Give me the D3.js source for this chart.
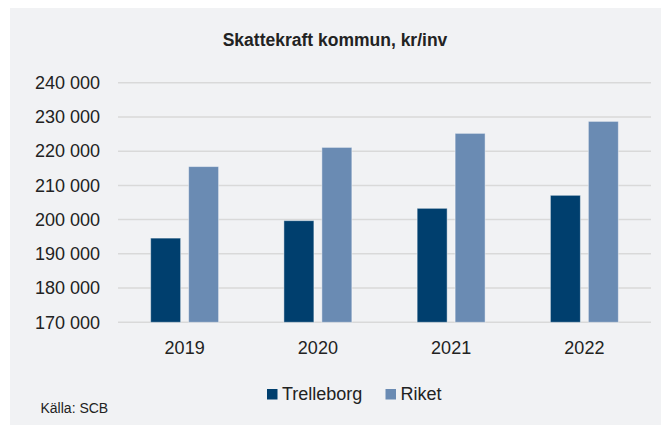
<!DOCTYPE html>
<html>
<head>
<meta charset="utf-8">
<script src="https://cdn.jsdelivr.net/npm/d3@7"></script>
<style>
  body { margin: 0; background: #fff; }
  svg { display: block; font-family: "Liberation Sans", Arial, sans-serif; }
</style>
</head>
<body>
<script>
const years = ["2019", "2020", "2021", "2022"];
const seriesNames = ["Trelleborg", "Riket"];
const trelleborg = [194600, 199700, 203300, 207100];
const riket = [215500, 221100, 225200, 228700];
const yTicks = [170000, 180000, 190000, 200000, 210000, 220000, 230000, 240000];

const w = 662;
const h = 425;
const colors = ["#003f6e", "#6a8bb3"];

const svg = d3.select("body")
  .append("svg")
  .attr("width", w)
  .attr("height", h);

// background panel
svg.append("rect")
  .attr("x", 10)
  .attr("y", 8)
  .attr("width", w - 11)
  .attr("height", h - 8)
  .attr("fill", "#f1f2f4");

svg.append("text")
  .attr("x", 335)
  .attr("y", 46)
  .attr("text-anchor", "middle")
  .attr("font-size", 17.5)
  .attr("font-weight", "bold")
  .attr("fill", "#222")
  .text("Skattekraft kommun, kr/inv");

const x0 = d3.scaleBand()
  .domain(years)
  .range([118, 651])
  .paddingInner(0.49)
  .paddingOuter(0.245);

const x1 = d3.scaleBand()
  .domain(seriesNames)
  .range([0, x0.bandwidth()])
  .paddingInner(0.21);

const y = d3.scaleLinear()
  .domain([170000, 240000])
  .range([322.3, 82.7]);

const fmt = d3.formatLocale({ decimal: ",", thousands: " ", grouping: [3], currency: ["", " kr"] }).format(",d");

// gridlines
svg.append("g")
  .selectAll("line")
  .data(yTicks)
  .enter()
  .append("line")
  .attr("x1", 118)
  .attr("x2", 651)
  .attr("y1", d => y(d))
  .attr("y2", d => y(d))
  .attr("stroke", "#d9d9d9")
  .attr("stroke-width", 1.5);

// y labels
const yAxis = svg.append("g")
  .attr("transform", "translate(100,0)")
  .call(d3.axisLeft(y).tickValues(yTicks).tickFormat(fmt).tickSize(0).tickPadding(0));
yAxis.select(".domain").remove();
yAxis.selectAll("text")
  .attr("font-size", 18)
  .attr("font-family", "'Liberation Sans', Arial, sans-serif")
  .attr("fill", "#222");

// x labels
const xAxis = svg.append("g")
  .attr("transform", "translate(0,341.5)")
  .call(d3.axisBottom(x0).tickSize(0).tickPadding(0));
xAxis.select(".domain").remove();
xAxis.selectAll("text")
  .attr("font-size", 18)
  .attr("font-family", "'Liberation Sans', Arial, sans-serif")
  .attr("fill", "#222");

const rows = years.map((yr, i) => ({ year: yr, values: [trelleborg[i], riket[i]] }));

const groups = svg.append("g")
  .selectAll("g")
  .data(rows)
  .enter()
  .append("g")
  .attr("transform", d => "translate(" + x0(d.year) + ",0)");

groups.selectAll("rect")
  .data(d => d.values.map((v, j) => ({ name: seriesNames[j], value: v, idx: j })))
  .enter()
  .append("rect")
  .attr("x", d => x1(d.name))
  .attr("width", x1.bandwidth())
  .attr("y", d => y(d.value))
  .attr("height", d => y(170000) - y(d.value))
  .attr("fill", d => colors[d.idx])
  .attr("stroke", "#ffffff")
  .attr("stroke-opacity", 0.45)
  .attr("stroke-width", 1);

// legend
const legendX = [267, 385.5];
const legend = svg.append("g");
seriesNames.forEach((name, i) => {
  legend.append("rect")
    .attr("x", legendX[i])
    .attr("y", 389)
    .attr("width", 10.5)
    .attr("height", 10.5)
    .attr("fill", colors[i]);
  legend.append("text")
    .attr("x", legendX[i] + 15)
    .attr("y", 400)
    .attr("font-size", 18)
    .attr("fill", "#222")
    .text(name);
});

svg.append("text")
  .attr("x", 40.5)
  .attr("y", 413)
  .attr("font-size", 14)
  .attr("fill", "#222")
  .text("Källa: SCB");
</script>
</body>
</html>
